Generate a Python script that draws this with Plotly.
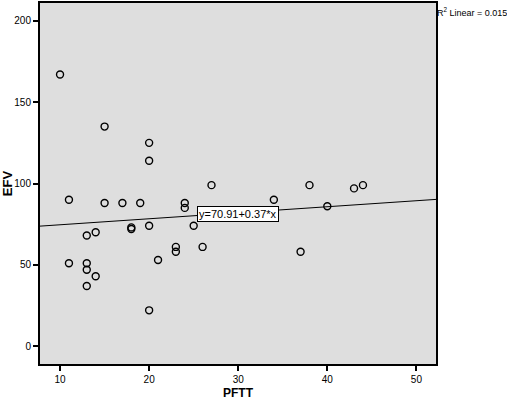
import plotly.graph_objects as go
import numpy as np

pftt = [10, 15, 20, 20, 11, 15, 17, 19, 24, 24, 27, 25, 20, 18, 18, 14, 13, 11, 13, 13, 14, 13,
        21, 23, 23, 26, 20, 34, 38, 43, 44, 40, 37]
efv = [167, 135, 125, 114, 90, 88, 88, 88, 88, 85, 99, 74, 74, 73, 72, 70, 68, 51, 51, 47, 43, 37,
       53, 61, 58, 61, 22, 90, 99, 97, 99, 86, 58]

fit_coef = [70.91, 0.37]  # intercept, slope
r2_text = "R<sup>2</sup> Linear = 0.015"
eq_text = "y=70.91+0.37*x"
eq_x = 29.9
x_range = [7.75, 52.2]
y_range = [-11, 211]
x_ticks = [10, 20, 30, 40, 50]
y_ticks = [0, 50, 100, 150, 200]

fig = go.Figure()
fig.add_trace(go.Scatter(
    x=pftt, y=efv, mode="markers",
    marker=dict(symbol="circle-open", size=7, color="black", line=dict(width=1.4)),
    showlegend=False, hoverinfo="skip"))

lx = np.array(x_range)
ly = fit_coef[0] + fit_coef[1] * lx
fig.add_trace(go.Scatter(x=lx, y=ly, mode="lines", line=dict(color="black", width=1),
                         showlegend=False, hoverinfo="skip"))

fig.add_annotation(x=eq_x, y=fit_coef[0] + fit_coef[1] * eq_x, xref="x", yref="y",
                   text=eq_text, showarrow=False, yshift=-1, xshift=1,
                   font=dict(family="Liberation Sans, Arial", size=11, color="black"),
                   bgcolor="white", bordercolor="black", borderwidth=1, borderpad=1)

fig.add_annotation(x=1.0, y=1.0, xref="paper", yref="paper", xanchor="left", yanchor="top",
                   text=r2_text, showarrow=False, yshift=-1, xshift=-1,
                   font=dict(family="Liberation Sans, Arial", size=9, color="black"))

fig.update_layout(
    width=507, height=400,
    margin=dict(l=40, r=71, t=1, b=36),
    paper_bgcolor="white", plot_bgcolor="#DEDEDE",
    font=dict(family="Liberation Sans, Arial", size=10, color="black"),
)
fig.update_xaxes(range=x_range, tickvals=x_ticks, ticks="outside", ticklen=5, tickwidth=1.5,
                 tickcolor="black", showgrid=False, zeroline=False,
                 showline=True, linecolor="black", linewidth=2, mirror=True,
                 title=dict(text="<b>PFTT</b>", font=dict(size=12), standoff=6))
fig.update_yaxes(range=y_range, tickvals=y_ticks, ticks="outside", ticklen=5, tickwidth=1.5,
                 tickcolor="black", showgrid=False, zeroline=False,
                 showline=True, linecolor="black", linewidth=2, mirror=True,
                 title=dict(text="<b>EFV</b>", font=dict(size=13), standoff=3))

fig.write_html("out.html")
